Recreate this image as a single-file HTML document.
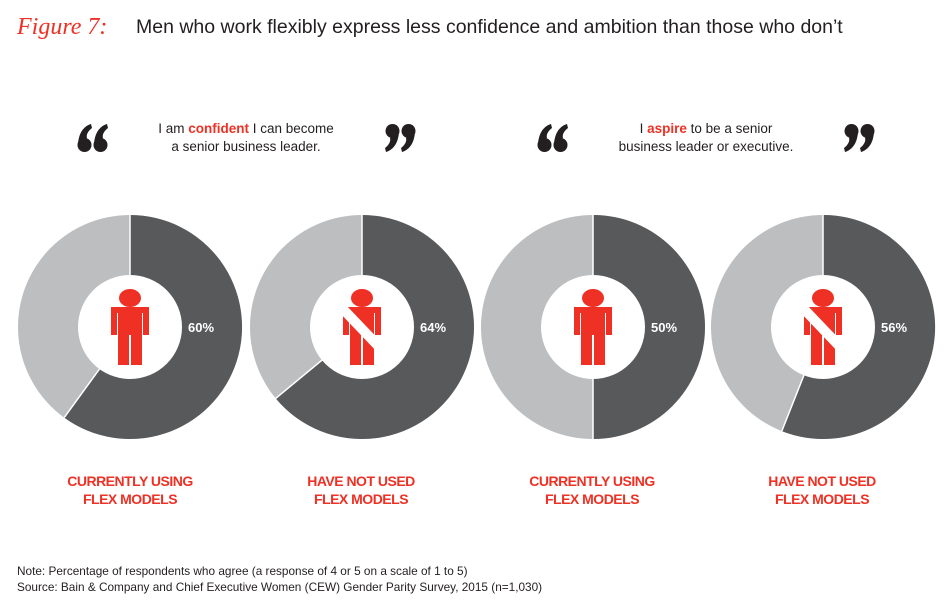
<!DOCTYPE html>
<html><head><meta charset="utf-8"><style>
html,body{margin:0;padding:0;background:#fff;}
body{width:950px;height:604px;overflow:hidden;}
</style></head><body>
<svg width="950" height="604" xmlns="http://www.w3.org/2000/svg" font-family="Liberation Sans, sans-serif">
<defs>
<g id="man">
 <ellipse cx="0" cy="-29" rx="11" ry="9" fill="#ee3124"/>
 <path d="M-19,-20 H19 V8 H13 V-14 H12 V38 H1 V8 H-1 V38 H-12 V-14 H-13 V8 H-19 Z" fill="#ee3124"/>
</g>
<g id="manx">
 <use href="#man"/>
 <path d="M-24,-16 L-17,-23 L24,20 L17,27 Z" fill="#fff"/>
</g>
<g id="lq">
 <path d="M0,22 C0,9 6,2 13,0 L14,4 C10,7 8,11 9,14 Z" fill="#231f20"/>
 <circle cx="6.5" cy="21" r="7" fill="#231f20"/>
 <path d="M16,22 C16,9 22,2 29,0 L30,4 C26,7 24,11 25,14 Z" fill="#231f20"/>
 <circle cx="22.5" cy="21" r="7" fill="#231f20"/>
</g>
<g id="rq">
 <g transform="rotate(180 14.5 14)"><use href="#lq"/></g>
</g>
</defs>

<text x="17" y="34" font-family="Liberation Serif, serif" font-style="italic" font-size="24" fill="#ee3124">Figure 7:</text>
<text x="136" y="33" font-size="19.5" fill="#231f20">Men who work flexibly express less confidence and ambition than those who don’t</text>

<use href="#lq" x="78" y="124"/>
<use href="#rq" x="386" y="124"/>
<use href="#lq" x="538" y="124"/>
<use href="#rq" x="845" y="124"/>

<g font-size="13.5" fill="#231f20" text-anchor="middle">
<text x="246" y="133">I am <tspan fill="#ee3124" font-weight="bold">confident</tspan> I can become</text>
<text x="246" y="151">a senior business leader.</text>
<text x="706" y="133">I <tspan fill="#ee3124" font-weight="bold">aspire</tspan> to be a senior</text>
<text x="706" y="151">business leader or executive.</text>
</g>

<g transform="translate(130,327)">
 <circle r="112" fill="#bcbec0"/>
 <path d="M0,0 L0,-112 A112,112 0 1 1 -65.8,90.6 Z" fill="#58595b"/>
 <line x1="0" y1="0" x2="0" y2="-112" stroke="#fff" stroke-width="1.5"/>
 <line x1="0" y1="0" x2="-65.8" y2="90.6" stroke="#fff" stroke-width="1.5"/>
 <circle r="52" fill="#fff"/>
 <use href="#man"/>
 <text x="71" y="5" font-size="13" font-weight="bold" fill="#fff" text-anchor="middle">60%</text>
</g>
<g transform="translate(362,327)">
 <circle r="112" fill="#bcbec0"/>
 <path d="M0,0 L0,-112 A112,112 0 1 1 -86.3,71.4 Z" fill="#58595b"/>
 <line x1="0" y1="0" x2="0" y2="-112" stroke="#fff" stroke-width="1.5"/>
 <line x1="0" y1="0" x2="-86.3" y2="71.4" stroke="#fff" stroke-width="1.5"/>
 <circle r="52" fill="#fff"/>
 <use href="#manx"/>
 <text x="71" y="5" font-size="13" font-weight="bold" fill="#fff" text-anchor="middle">64%</text>
</g>
<g transform="translate(593,327)">
 <circle r="112" fill="#bcbec0"/>
 <path d="M0,0 L0,-112 A112,112 0 0 1 0,112 Z" fill="#58595b"/>
 <line x1="0" y1="-112" x2="0" y2="112" stroke="#fff" stroke-width="1.5"/>
 <circle r="52" fill="#fff"/>
 <use href="#man"/>
 <text x="71" y="5" font-size="13" font-weight="bold" fill="#fff" text-anchor="middle">50%</text>
</g>
<g transform="translate(823,327)">
 <circle r="112" fill="#bcbec0"/>
 <path d="M0,0 L0,-112 A112,112 0 1 1 -41.2,104.1 Z" fill="#58595b"/>
 <line x1="0" y1="0" x2="0" y2="-112" stroke="#fff" stroke-width="1.5"/>
 <line x1="0" y1="0" x2="-41.2" y2="104.1" stroke="#fff" stroke-width="1.5"/>
 <circle r="52" fill="#fff"/>
 <use href="#manx"/>
 <text x="71" y="5" font-size="13" font-weight="bold" fill="#fff" text-anchor="middle">56%</text>
</g>

<g font-size="14" font-weight="bold" fill="#ee3124" text-anchor="middle" letter-spacing="-0.5">
<text x="130" y="486">CURRENTLY USING</text>
<text x="130" y="504">FLEX MODELS</text>
<text x="361" y="486">HAVE NOT USED</text>
<text x="361" y="504">FLEX MODELS</text>
<text x="592" y="486">CURRENTLY USING</text>
<text x="592" y="504">FLEX MODELS</text>
<text x="822" y="486">HAVE NOT USED</text>
<text x="822" y="504">FLEX MODELS</text>
</g>

<g font-size="11.8" fill="#231f20">
<text x="17" y="575">Note: Percentage of respondents who agree (a response of 4 or 5 on a scale of 1 to 5)</text>
<text x="17" y="591">Source: Bain &amp; Company and Chief Executive Women (CEW) Gender Parity Survey, 2015 (n=1,030)</text>
</g>
</svg>
</body></html>
